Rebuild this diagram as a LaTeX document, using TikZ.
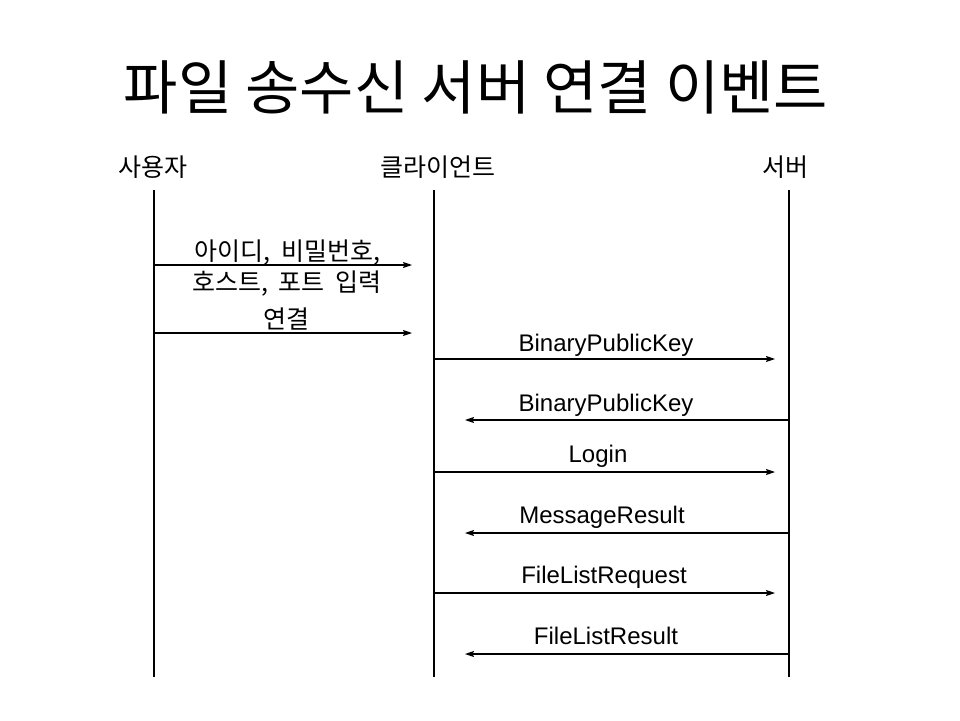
\documentclass[tikz,border=0pt]{standalone}
\usepackage{fontspec}
\setmainfont{Liberation Sans}
\newfontfamily\krfont{Noto Sans CJK KR}
\newcommand\krwide{\spaceskip=11pt plus 2pt\relax}
\usepackage{tikz}
\usetikzlibrary{positioning}
\usetikzlibrary{arrows.meta}
\tikzstyle{titletext} = [font=\krfont\fontsize{59}{64}\selectfont, anchor=base, inner sep=0pt]
\tikzstyle{actor} = [font=\krfont\fontsize{25}{30}\selectfont, anchor=base, inner sep=0pt]
\tikzstyle{msg} = [font=\fontsize{24}{30}\selectfont, anchor=base, inner sep=0pt]
\tikzstyle{krmsg} = [font=\krfont\fontsize{25}{31}\selectfont\krwide, anchor=base, inner sep=0pt, align=center]
\tikzstyle{lifeline} = [line width=1.2pt]
\tikzstyle{arrow} = [line width=1.1pt,-{Stealth[length=9pt,width=6pt,inset=1.5pt]}]

\begin{document}
\begin{tikzpicture}[x=1pt, y=-1pt]

\useasboundingbox [fill=white] (0,0) rectangle (960,720);

\node (title) [titletext] at (476,109) {파일 송수신 서버 연결 이벤트};

\node (user) [actor] at (153,176) {사용자};
\node (client) [actor] at (438,176) {클라이언트};
\node (server) [actor] at (785,176) {서버};

% lifelines
\coordinate (usertop) at (154,190);
\coordinate (userbot) at (154,677);
\coordinate (clienttop) at (434,190);
\coordinate (clientbot) at (434,677);
\coordinate (servertop) at (789,190);
\coordinate (serverbot) at (789,677);
\draw [lifeline] (usertop) -- (userbot);
\draw [lifeline] (clienttop) -- (clientbot);
\draw [lifeline] (servertop) -- (serverbot);

% message end points
\coordinate (input1) at (154,265);
\coordinate (input2) at (412,265);
\coordinate (connect1) at (154,333);
\coordinate (connect2) at (412,333);
\coordinate (keysend1) at (434,359);
\coordinate (keysend2) at (775,359);
\coordinate (keyback1) at (789,420);
\coordinate (keyback2) at (465,420);
\coordinate (login1) at (434,472);
\coordinate (login2) at (775,472);
\coordinate (result1) at (789,533);
\coordinate (result2) at (465,533);
\coordinate (listreq1) at (434,593);
\coordinate (listreq2) at (775,593);
\coordinate (listres1) at (789,654);
\coordinate (listres2) at (465,654);

% the base of a two line node is its last line
\node (inputlabel) [krmsg] at (287,291) {아이디, 비밀번호,\\호스트, 포트 입력};
\node (connectlabel) [krmsg] at (286,328) {연결};
\node (keysendlabel) [msg] at (606,351) {BinaryPublicKey};
\node (keybacklabel) [msg] at (606,411) {BinaryPublicKey};
\node (loginlabel) [msg] at (598,462) {Login};
\node (resultlabel) [msg] at (602,523) {MessageResult};
\node (listreqlabel) [msg] at (604,583) {FileListRequest};
\node (listreslabel) [msg] at (606,644) {FileListResult};

\draw [arrow] (input1) -- (input2);
\draw [arrow] (connect1) -- (connect2);
\draw [arrow] (keysend1) -- (keysend2);
\draw [arrow] (keyback1) -- (keyback2);
\draw [arrow] (login1) -- (login2);
\draw [arrow] (result1) -- (result2);
\draw [arrow] (listreq1) -- (listreq2);
\draw [arrow] (listres1) -- (listres2);

\end{tikzpicture}
\end{document}
